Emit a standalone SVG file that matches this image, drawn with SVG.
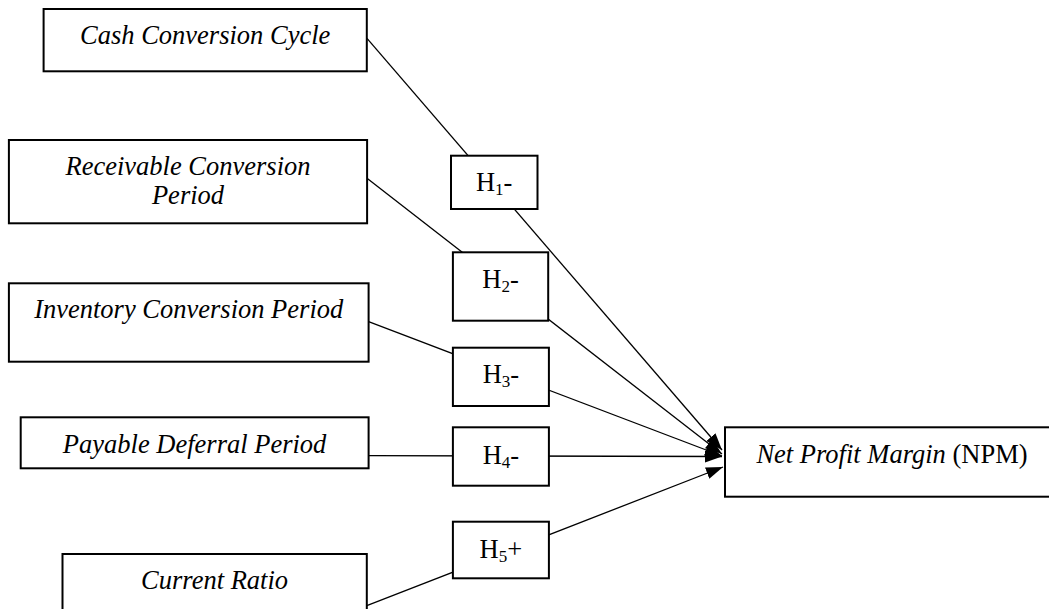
<svg xmlns="http://www.w3.org/2000/svg" width="1049" height="609" viewBox="0 0 1049 609">
<style>
.box{fill:#fff;stroke:#000;stroke-width:2}
.ln{stroke:#000;stroke-width:1.3;fill:none}
.t{font-family:"Liberation Serif","Times New Roman",serif;font-size:26.5px;fill:#000;text-anchor:middle}
.i{font-style:italic}
.sub{font-size:17px}
</style>
<defs>
<marker id="arr" markerUnits="userSpaceOnUse" markerWidth="18" markerHeight="13" refX="17" refY="6" orient="auto">
<path d="M0,0 L17,6 L0,12 z" fill="#000"/>
</marker>
</defs>
<rect width="1049" height="609" fill="#fff"/>
<g id="connectors">
<line class="ln" x1="367" y1="38.3" x2="722" y2="450" marker-end="url(#arr)"/>
<line class="ln" x1="367" y1="178.3" x2="722" y2="454" marker-end="url(#arr)"/>
<line class="ln" x1="368.6" y1="321.7" x2="722" y2="456" marker-end="url(#arr)"/>
<line class="ln" x1="368.6" y1="455.7" x2="722" y2="456.5" marker-end="url(#arr)"/>
<line class="ln" x1="366.8" y1="605.7" x2="723" y2="467" marker-end="url(#arr)"/>
</g>
<g id="ccc">
<rect class="box" x="43.6" y="9" width="323.2" height="62.3"/>
<text class="t i" x="205.2" y="44.3">Cash Conversion Cycle</text>
</g>
<g id="rcp">
<rect class="box" x="8.9" y="140" width="358.2" height="83.3"/>
<text class="t i" x="188" y="175">Receivable Conversion</text>
<text class="t i" x="188" y="204">Period</text>
</g>
<g id="icp">
<rect class="box" x="8.9" y="283.3" width="359.7" height="78.4"/>
<text class="t i" x="188.7" y="318.3">Inventory Conversion Period</text>
</g>
<g id="pdp">
<rect class="box" x="20.7" y="417.3" width="347.9" height="51"/>
<text class="t i" x="194.6" y="452.7">Payable Deferral Period</text>
</g>
<g id="cr">
<rect class="box" x="62.5" y="554" width="304.3" height="70"/>
<text class="t i" x="214.6" y="589.3">Current Ratio</text>
</g>
<g id="h1">
<rect class="box" x="451" y="155.7" width="86.5" height="53.3"/>
<text class="t" x="494.2" y="190.7">H<tspan class="sub" dy="4">1</tspan><tspan dy="-4">-</tspan></text>
</g>
<g id="h2">
<rect class="box" x="452.9" y="252.3" width="95.3" height="68.4"/>
<text class="t" x="500.5" y="288.3">H<tspan class="sub" dy="4">2</tspan><tspan dy="-4">-</tspan></text>
</g>
<g id="h3">
<rect class="box" x="452.9" y="347.7" width="96" height="58.3"/>
<text class="t" x="500.9" y="383.3">H<tspan class="sub" dy="4">3</tspan><tspan dy="-4">-</tspan></text>
</g>
<g id="h4">
<rect class="box" x="452.9" y="427.3" width="96" height="58.4"/>
<text class="t" x="500.9" y="464">H<tspan class="sub" dy="4">4</tspan><tspan dy="-4">-</tspan></text>
</g>
<g id="h5">
<rect class="box" x="452.9" y="521.7" width="96" height="56.6"/>
<text class="t" x="500.9" y="558.3">H<tspan class="sub" dy="4">5</tspan><tspan dy="-4">+</tspan></text>
</g>
<g id="npm">
<rect class="box" x="725" y="427.3" width="340" height="69.4"/>
<text class="t" x="892" y="462.7"><tspan class="i">Net Profit Margin</tspan> (NPM)</text>
</g>
</svg>
